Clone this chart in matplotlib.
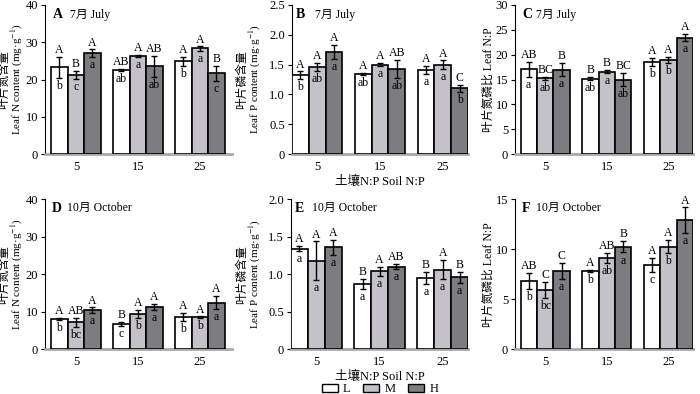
import matplotlib
matplotlib.use('Agg')
import matplotlib.pyplot as plt
import numpy as np
from matplotlib.patches import Patch
from matplotlib.ticker import FuncFormatter

plt.rcParams['font.family'] = ['Liberation Serif', 'Noto Sans CJK SC']
plt.rcParams['mathtext.fontset'] = 'stix'

W, H_PX = 700, 394

groups = ['5', '15', '25']
treatments = ['L', 'M', 'H']
colors = ['#ffffff', '#c4c2c8', '#7d7c80']

# panel A: leaf N, July
a_mean = {'L': [23.3, 22.6, 24.9], 'M': [21.3, 26.3, 28.3], 'H': [27.1, 23.5, 21.7]}
a_err = {'L': [2.8, 0.2, 1.2], 'M': [1.1, 0.3, 0.6], 'H': [1.0, 2.9, 2.0]}
a_up = {'L': ['A', 'AB', 'A'], 'M': ['B', 'A', 'A'], 'H': ['A', 'AB', 'B']}
a_low = {'L': ['b', 'ab', 'b'], 'M': ['c', 'a', 'a'], 'H': ['a', 'ab', 'c']}

# panel B: leaf P, July
b_mean = {'L': [1.32, 1.34, 1.41], 'M': [1.46, 1.50, 1.50], 'H': [1.71, 1.43, 1.10]}
b_err = {'L': [0.065, 0.02, 0.065], 'M': [0.07, 0.03, 0.07], 'H': [0.12, 0.15, 0.06]}
b_up = {'L': ['A', 'A', 'A'], 'M': ['A', 'A', 'A'], 'H': ['A', 'AB', 'C']}
b_low = {'L': ['b', 'ab', 'a'], 'M': ['ab', 'a', 'a'], 'H': ['a', 'ab', 'b']}

# panel C: leaf N:P, July
c_mean = {'L': [17.1, 15.2, 18.6], 'M': [15.3, 16.6, 18.9], 'H': [17.0, 15.0, 23.4]}
c_err = {'L': [1.5, 0.3, 0.8], 'M': [0.3, 0.3, 0.6], 'H': [1.3, 1.3, 0.7]}
c_up = {'L': ['AB', 'B', 'A'], 'M': ['BC', 'B', 'A'], 'H': ['B', 'BC', 'A']}
c_low = {'L': ['a', 'ab', 'b'], 'M': ['ab', 'a', 'b'], 'H': ['a', 'ab', 'a']}

# panel D: leaf N, October
d_mean = {'L': [8.0, 6.7, 8.5], 'M': [7.1, 9.4, 8.5], 'H': [10.4, 11.2, 12.4]}
d_err = {'L': [0.3, 0.5, 1.1], 'M': [1.3, 1.1, 0.2], 'H': [0.7, 0.8, 1.8]}
d_up = {'L': ['A', 'B', 'A'], 'M': ['AB', 'A', 'A'], 'H': ['A', 'A', 'A']}
d_low = {'L': ['b', 'c', 'b'], 'M': ['bc', 'b', 'b'], 'H': ['a', 'a', 'a']}

# panel E: leaf P, October
e_mean = {'L': [1.34, 0.87, 0.95], 'M': [1.18, 1.04, 1.06], 'H': [1.36, 1.10, 0.96]}
e_err = {'L': [0.035, 0.07, 0.085], 'M': [0.26, 0.06, 0.13], 'H': [0.10, 0.035, 0.075]}
e_up = {'L': ['A', 'B', 'B'], 'M': ['A', 'A', 'A'], 'H': ['A', 'AB', 'B']}
e_low = {'L': ['a', 'a', 'a'], 'M': ['a', 'a', 'a'], 'H': ['a', 'a', 'a']}

# panel F: leaf N:P, October
f_mean = {'L': [6.8, 7.86, 8.46], 'M': [5.9, 9.1, 10.27], 'H': [7.86, 10.27, 12.9]}
f_err = {'L': [0.8, 0.1, 0.7], 'M': [0.8, 0.5, 0.67], 'H': [0.8, 0.6, 1.3]}
f_up = {'L': ['AB', 'A', 'A'], 'M': ['C', 'AB', 'A'], 'H': ['C', 'B', 'A']}
f_low = {'L': ['b', 'b', 'c'], 'M': ['bc', 'ab', 'b'], 'H': ['a', 'a', 'a']}

# y labels: (chinese line, latin line)
ylab_n = ('叶片氮含量', 'Leaf N content (mg·g$^{-1}$)')
ylab_p = ('叶片磷含量', 'Leaf P content (mg·g$^{-1}$)')
ylab_np = ('叶片氮磷比 Leaf N:P', None)
xlab = '土壤N:P Soil N:P'

panels = [
    # letter, month, mean, err, up, low, ytop, yticks, ylabel, left px, right px, row, xlim, label x px
    ('A', '7月 July', a_mean, a_err, a_up, a_low, 40, np.arange(0, 41, 10), ylab_n, 45, 232, 0, (-0.5, 2.52), (4.5, 17)),
    ('B', '7月 July', b_mean, b_err, b_up, b_low, 2.5, np.arange(0, 2.51, 0.5), ylab_p, 292, 468, 0, (-0.4, 2.4), (242, 255)),
    ('C', '7月 July', c_mean, c_err, c_up, c_low, 30, np.arange(0, 31, 5), ylab_np, 515, 693, 0, (-0.49, 2.4), (489, None)),
    ('D', '10月 October', d_mean, d_err, d_up, d_low, 40, np.arange(0, 41, 10), ylab_n, 45, 232, 1, (-0.5, 2.52), (4.5, 17)),
    ('E', '10月 October', e_mean, e_err, e_up, e_low, 2.0, np.arange(0, 2.01, 0.5), ylab_p, 291, 468, 1, (-0.4, 2.4), (242, 255)),
    ('F', '10月 October', f_mean, f_err, f_up, f_low, 15, np.arange(0, 16, 5), ylab_np, 515, 693, 1, (-0.49, 2.4), (489, None)),
]

row_px = [(4.7, 154.3), (199.3, 349.0)]

fig = plt.figure(figsize=(7, 3.94), dpi=100)

x = np.arange(len(groups))
bw = 0.267

for (letter, month, mean, err, up, low, ytop, yticks, ylabel,
     lpx, rpx, row, xlim, lab_x) in panels:
    tpx, bpx = row_px[row]
    ax = fig.add_axes([lpx / W, (H_PX - bpx) / H_PX, (rpx - lpx) / W, (bpx - tpx) / H_PX])
    for i, t in enumerate(treatments):
        xs = x + (i - 1) * bw
        ax.bar(xs, mean[t], bw, color=colors[i], edgecolor='black', linewidth=1.2, zorder=3)
        ax.errorbar(xs, mean[t], yerr=err[t], fmt='none', ecolor='black',
                    elinewidth=1, capsize=2, capthick=1, zorder=4)
        for j in range(len(groups)):
            ax.annotate(up[t][j], (xs[j], mean[t][j] + err[t][j]), xytext=(0, 0.5),
                        textcoords='offset points', ha='center', va='bottom', fontsize=8.5)
            ax.annotate(low[t][j], (xs[j], mean[t][j] - err[t][j]), xytext=(0, -1.5),
                        textcoords='offset points', ha='center', va='top', fontsize=8.5, zorder=5)
    ax.set_xlim(*xlim)
    ax.set_ylim(0, ytop)
    ax.set_yticks(yticks)
    if ytop <= 2.5:
        ax.yaxis.set_major_formatter(FuncFormatter(lambda v, _: '0' if v == 0 else '{:.1f}'.format(v)))
    ax.set_xticks(x)
    ax.set_xticklabels(groups)
    ax.tick_params(axis='x', length=0, pad=5, labelsize=9)
    ax.tick_params(axis='y', direction='out', length=3, width=0.8, pad=2, labelsize=9)
    for s in ['top', 'right']:
        ax.spines[s].set_visible(False)
    ax.spines['left'].set_linewidth(0.8)
    ax.spines['bottom'].set_color('#a9a9a9')
    ax.spines['bottom'].set_linewidth(2)
    # y label lines placed separately
    yc = 1 - (tpx + bpx) / 2 / H_PX
    fig.text(lab_x[0] / W, yc, ylabel[0], rotation=90, ha='center', va='center', fontsize=8.5)
    if ylabel[1] is not None:
        fig.text(lab_x[1] / W, yc, ylabel[1], rotation=90, ha='center', va='center', fontsize=8)
    if letter in ('B', 'E'):
        ax.set_xlabel(xlab, fontsize=9, labelpad=2)

# panel titles
title_pos = {'A': (53, 70, 15), 'B': (296, 315, 15), 'C': (522, 536, 15),
             'D': (52, 67, 208), 'E': (295, 312, 208), 'F': (522, 536, 208)}
for p in panels:
    lx, mx, ty = title_pos[p[0]]
    fig.text(lx / W, 1 - ty / H_PX, p[0], fontsize=10, fontweight='bold', va='center', ha='left')
    fig.text(mx / W, 1 - ty / H_PX, p[1], fontsize=8.5, va='center', ha='left')

handles = [Patch(facecolor=c, edgecolor='black', linewidth=1) for c in colors]
fig.legend(handles, treatments, loc='center', bbox_to_anchor=(380 / W, 1 - 389 / H_PX),
           ncol=3, frameon=False, fontsize=9, handlelength=1.3, handleheight=0.6,
           handletextpad=0.4, columnspacing=1.0, borderpad=0)

fig.savefig('out.png', dpi=100)
